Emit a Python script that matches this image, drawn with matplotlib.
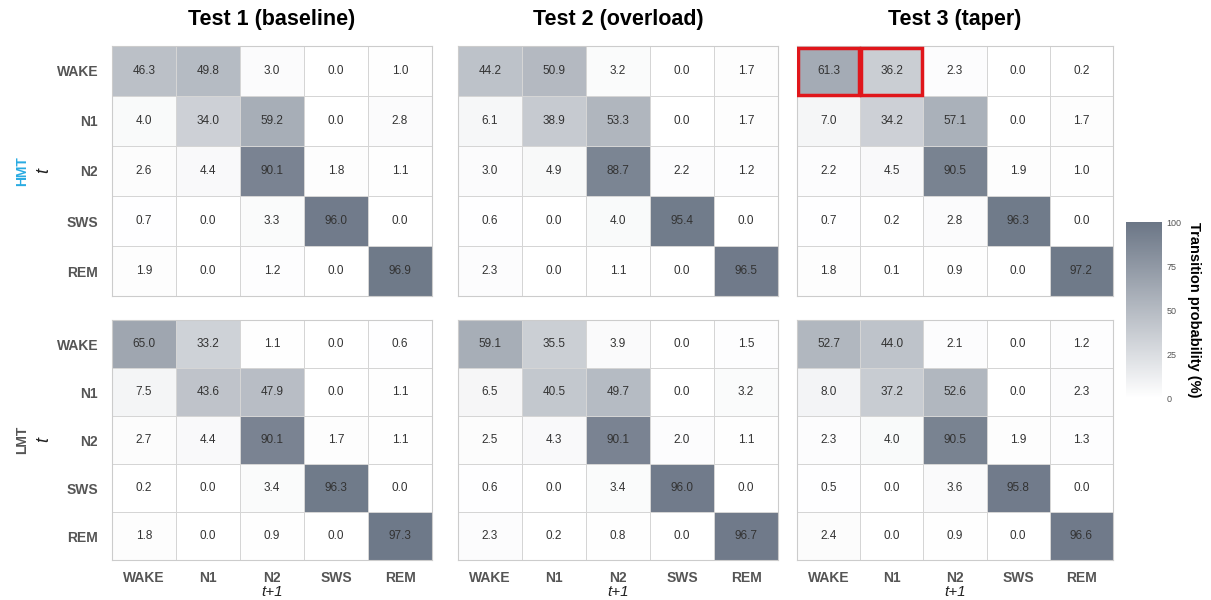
import numpy as np
import matplotlib
matplotlib.use('Agg')
from matplotlib import pyplot as plt
from matplotlib.colors import LinearSegmentedColormap
from matplotlib.patches import Rectangle

plt.rcParams['font.family'] = ['Liberation Sans', 'DejaVu Sans']

stages = ['WAKE', 'N1', 'N2', 'SWS', 'REM']
tests = ['Test 1 (baseline)', 'Test 2 (overload)', 'Test 3 (taper)']
groups = ['HMT', 'LMT']

hmt_test1 = [[46.3, 49.8, 3.0, 0.0, 1.0], [4.0, 34.0, 59.2, 0.0, 2.8], [2.6, 4.4, 90.1, 1.8, 1.1],
             [0.7, 0.0, 3.3, 96.0, 0.0], [1.9, 0.0, 1.2, 0.0, 96.9]]
hmt_test2 = [[44.2, 50.9, 3.2, 0.0, 1.7], [6.1, 38.9, 53.3, 0.0, 1.7], [3.0, 4.9, 88.7, 2.2, 1.2],
             [0.6, 0.0, 4.0, 95.4, 0.0], [2.3, 0.0, 1.1, 0.0, 96.5]]
hmt_test3 = [[61.3, 36.2, 2.3, 0.0, 0.2], [7.0, 34.2, 57.1, 0.0, 1.7], [2.2, 4.5, 90.5, 1.9, 1.0],
             [0.7, 0.2, 2.8, 96.3, 0.0], [1.8, 0.1, 0.9, 0.0, 97.2]]
lmt_test1 = [[65.0, 33.2, 1.1, 0.0, 0.6], [7.5, 43.6, 47.9, 0.0, 1.1], [2.7, 4.4, 90.1, 1.7, 1.1],
             [0.2, 0.0, 3.4, 96.3, 0.0], [1.8, 0.0, 0.9, 0.0, 97.3]]
lmt_test2 = [[59.1, 35.5, 3.9, 0.0, 1.5], [6.5, 40.5, 49.7, 0.0, 3.2], [2.5, 4.3, 90.1, 2.0, 1.1],
             [0.6, 0.0, 3.4, 96.0, 0.0], [2.3, 0.2, 0.8, 0.0, 96.7]]
lmt_test3 = [[52.7, 44.0, 2.1, 0.0, 1.2], [8.0, 37.2, 52.6, 0.0, 2.3], [2.3, 4.0, 90.5, 1.9, 1.3],
             [0.5, 0.0, 3.6, 95.8, 0.0], [2.4, 0.0, 0.9, 0.0, 96.6]]

mats = [[hmt_test1, hmt_test2, hmt_test3], [lmt_test1, lmt_test2, lmt_test3]]
highlight = [(0, 0), (0, 1)]  # HMT test 3 cells boxed in red

cmap = LinearSegmentedColormap.from_list('slate', ['#ffffff', '#6b7686'])

fig = plt.figure(figsize=(12.11, 6.0), dpi=100)

lefts = [112 / 1211, 458 / 1211, 797 / 1211]
widths = [320 / 1211, 320 / 1211, 316 / 1211]
bottoms = [1 - 296 / 600, 1 - 560 / 600]
heights = [250 / 600, 240 / 600]

im = None
for r in range(2):
    for c in range(3):
        ax = fig.add_axes([lefts[c], bottoms[r], widths[c], heights[r]])
        m = np.array(mats[r][c])
        im = ax.pcolormesh(m, cmap=cmap, vmin=0, vmax=100, edgecolor='#d5d5d5', linewidth=0.6)
        ax.set_xlim(0, 5)
        ax.set_ylim(5, 0)
        for i in range(5):
            for j in range(5):
                ax.text(j + 0.5, i + 0.5, f'{m[i, j]:.1f}', ha='center', va='center',
                        fontsize=8.5, color='#333333')
        for s in ax.spines.values():
            s.set_color('#cccccc')
            s.set_linewidth(0.8)
        ax.tick_params(length=0, pad=8)
        ax.set_xticks(np.arange(5) + 0.5)
        ax.set_yticks(np.arange(5) + 0.5)
        if r == 1:
            ax.set_xticklabels(stages, fontsize=10, fontweight='bold', color='#555555')
            ax.set_xlabel('t+1', fontsize=11, style='italic', labelpad=0, color='#222222')
        else:
            ax.set_xticklabels([])
            ax.set_title(tests[c], fontsize=15.5, fontweight='bold', pad=15)
        if c == 0:
            ax.set_yticklabels(stages, fontsize=10, fontweight='bold', color='#555555')
            ax.tick_params(axis='y', pad=10)
        else:
            ax.set_yticklabels([])
        if r == 0 and c == 2:
            for (i, j) in highlight:
                ax.add_patch(Rectangle((j + 0.02, i + 0.03), 0.96, 0.94, fill=False,
                                       edgecolor='#e0161b', linewidth=2.5, zorder=5))

# group labels on the left
fig.text(22 / 1211, 1 - 171 / 600, 'HMT', rotation=90, ha='center', va='center',
         fontsize=10, fontweight='bold', color='#29abe2')
fig.text(44 / 1211, 1 - 171 / 600, 't', rotation=90, ha='center', va='center',
         fontsize=13, style='italic', color='#222222')
fig.text(22 / 1211, 1 - 440 / 600, 'LMT', rotation=90, ha='center', va='center',
         fontsize=10, fontweight='bold', color='#555555')
fig.text(44 / 1211, 1 - 440 / 600, 't', rotation=90, ha='center', va='center',
         fontsize=13, style='italic', color='#222222')

cax = fig.add_axes([1126 / 1211, 1 - 398 / 600, 36 / 1211, 176 / 600])
cb = fig.colorbar(im, cax=cax, ticks=[0, 25, 50, 75, 100])
cb.outline.set_visible(False)
cb.ax.tick_params(labelsize=6.5, length=0, colors='#555555', pad=3)
cb.set_label('Transition probability (%)', rotation=270, labelpad=14, fontsize=10.5, fontweight='bold')

plt.savefig('out.png', dpi=100)
